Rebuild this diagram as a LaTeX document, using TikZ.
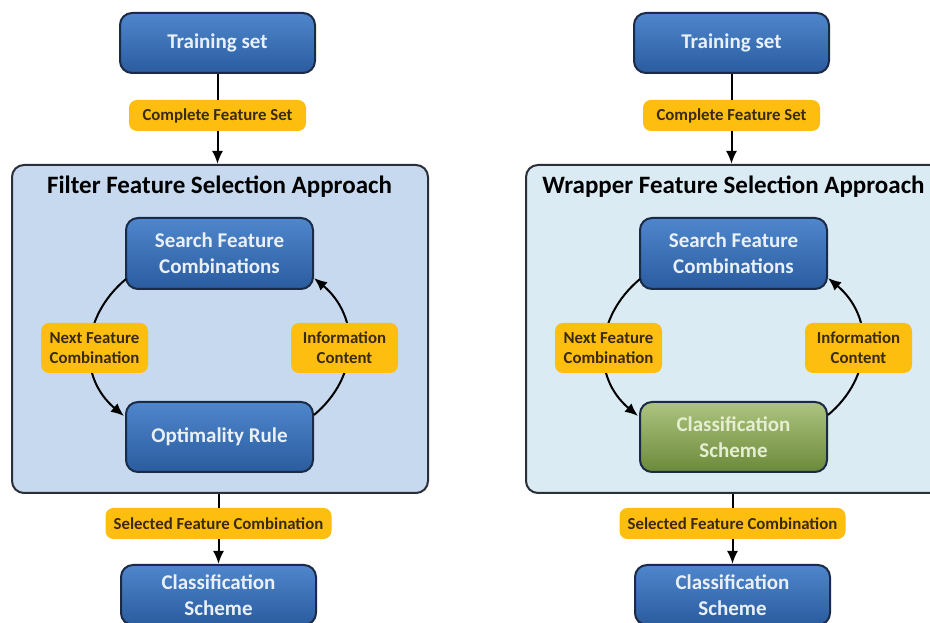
\documentclass[tikz,border=0pt]{standalone}
\usepackage{fontspec}
\setmainfont{Carlito}
\usetikzlibrary{arrows.meta,calc}
\definecolor{boxtop}{HTML}{4F86CC}
\definecolor{boxbot}{HTML}{2A5C9F}
\definecolor{boxline}{HTML}{1B2A45}
\definecolor{boxtext}{HTML}{EAF0F8}
\definecolor{greentop}{HTML}{ADC47F}
\definecolor{greenbot}{HTML}{6C8A3A}
\definecolor{greentext}{HTML}{E6EED2}
\definecolor{labfill}{HTML}{FDBE10}
\definecolor{labtext}{HTML}{3A2A10}
\definecolor{filterbg}{HTML}{C6D9EF}
\definecolor{wrapperbg}{HTML}{DAEBF3}
\definecolor{frameline}{HTML}{2A2F38}
\tikzset{
  x=1pt, y=1pt,
  bluebox/.style={draw=boxline, line width=2pt, rounded corners=12pt,
    top color=boxtop, bottom color=boxbot, text=boxtext,
    font=\fontsize{21}{26}\selectfont\bfseries, align=center,
    inner sep=0pt},
  greenbox/.style={bluebox, top color=greentop, bottom color=greenbot, text=greentext},
  labbox/.style={fill=labfill, rounded corners=8pt, text=labtext,
    font=\fontsize{16.8}{20}\selectfont\bfseries, align=center, inner sep=0pt},
  frame/.style={draw=frameline, line width=2pt, rounded corners=12pt},
  conn/.style={line width=2pt, draw=black},
  arr/.style={conn, -{Latex[length=13pt,width=11pt]}},
  titletext/.style={font=\fontsize{25}{29}\selectfont\bfseries, text=black}
}
% #1 prefix, #2 xshift, #3 title, #4 frame colour, #5 inner style, #6 inner text
\newcommand{\drawcolumn}[6]{%
  \begin{scope}[xshift=#2pt]
    \node[frame, fill=#4, minimum width=416pt, minimum height=328pt] (#1fr) at (220,294) {};
    \node[titletext] (#1ti) at (219.5,436) {#3};
    \node[bluebox, minimum width=195pt, minimum height=60pt] (#1ts) at (217.5,580) {Training set};
    \node[labbox, minimum width=177pt, minimum height=31pt] (#1cf) at (217.5,507.5) {Complete Feature Set};
    \node[bluebox, minimum width=187pt, minimum height=71pt] (#1sf) at (219.5,369.5) {Search Feature\\Combinations};
    \node[#5, minimum width=187pt, minimum height=70pt] (#1op) at (219.5,186) {#6};
    \coordinate (#1nfc) at (94.5,275);
    \coordinate (#1icc) at (344.5,275);
    \node[labbox, minimum width=226pt, minimum height=31pt] (#1sc) at (218.5,99.5) {Selected Feature Combination};
    \node[bluebox, minimum width=195pt, minimum height=60pt] (#1cs) at (218.5,28) {Classification\\Scheme};
  \end{scope}
  \draw[conn] (#1ts.south) -- (#1cf.north);
  \draw[arr] (#1cf.south) -- (#1cf.south |- #1fr.north);
  \draw[conn] (#1sc.north |- #1fr.south) -- (#1sc.north);
  \draw[arr] (#1sc.south) -- (#1cs.north);
  \draw[arr] ($(#1sf.south west)+(1,11)$) .. controls +(-46,-38.5) and +(-46,38.5) .. ($(#1op.north west)+(-1,-15)$);
  \draw[arr] ($(#1op.north east)+(0,-14)$) .. controls +(46,38.5) and +(46,-38.5) .. ($(#1sf.south east)+(0,12)$);
  \node[labbox, minimum width=107pt, minimum height=50pt] (#1nf) at (#1nfc) {Next Feature\\Combination};
  \node[labbox, minimum width=107pt, minimum height=50pt] (#1ic) at (#1icc) {Information\\Content};
}
\begin{document}
\begin{tikzpicture}
  \clip (0,0) rectangle (930,623);
  \fill[white] (0,0) rectangle (930,623);
  \drawcolumn{L}{0}{Filter Feature Selection Approach}{filterbg}{bluebox}{Optimality Rule}
  \drawcolumn{R}{514}{Wrapper Feature Selection Approach}{wrapperbg}{greenbox}{Classification\\Scheme}
\end{tikzpicture}
\end{document}
